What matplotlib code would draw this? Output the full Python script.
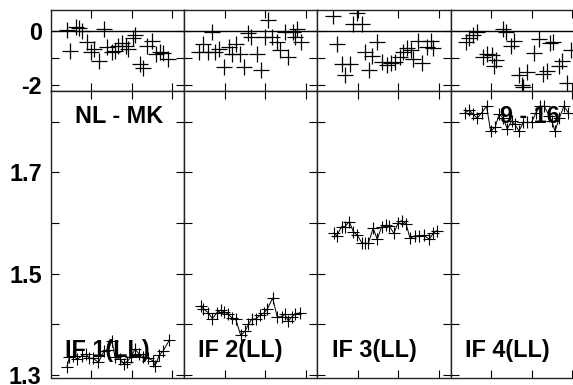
import matplotlib
matplotlib.use("Agg")
import matplotlib.pyplot as plt

plt.rcParams['font.family'] = ['Liberation Sans', 'DejaVu Sans']
plt.rcParams['font.weight'] = 'bold'

W, H = 573, 385

# phase (top row), one pair of lists per IF
ph_x1 = [0.40, 0.48, 0.62, 0.70, 0.77, 0.90, 0.99, 1.08, 1.19, 1.32, 1.40, 1.52, 1.59, 1.67,
         1.75, 1.86, 1.92, 2.02, 2.08, 2.20, 2.29, 2.37, 2.49, 2.60, 2.70, 2.78, 2.90]
ph_y1 = [0.04, -0.73, 0.16, 0.10, 0.01, -0.42, -0.77, -0.68, -1.10, 0.06, -0.58, -0.77, -0.73, -0.56,
         -0.46, -0.56, -0.68, -0.27, -0.15, -1.22, -1.36, -0.56, -0.36, -0.85, -0.77, -0.83, -1.05]

ph_x2 = [0.38, 0.48, 0.59, 0.70, 0.77, 0.87, 0.99, 1.12, 1.18, 1.28, 1.38, 1.49, 1.59, 1.65,
         1.80, 1.89, 2.00, 2.08, 2.18, 2.29, 2.37, 2.49, 2.58, 2.70, 2.74, 2.78, 2.89]
ph_y2 = [-0.79, -0.49, -0.79, -0.05, -0.79, -0.68, -1.32, -0.58, -0.85, -0.49, -0.85, -1.32, -0.09, -0.21,
         -0.85, -1.44, -0.23, 0.41, -0.23, -0.42, -0.70, -0.05, -0.98, -0.05, -0.21, 0.07, -0.40]

ph_x3 = [0.38, 0.49, 0.60, 0.68, 0.81, 0.87, 0.99, 1.10, 1.18, 1.28, 1.34, 1.47, 1.59, 1.71,
         1.81, 1.92, 2.04, 2.12, 2.22, 2.31, 2.37, 2.49, 2.58, 2.70, 2.80, 2.85]
ph_y3 = [0.57, -0.49, -1.23, -1.63, -1.23, 0.26, 0.65, 0.26, -0.79, -1.44, -0.93, -0.42, -1.14, -1.26,
         -1.20, -1.14, -0.98, -0.77, -0.64, -0.70, -1.04, -0.36, -1.20, -0.58, -0.36, -0.64]

ph_x4 = [0.38, 0.46, 0.56, 0.65, 0.81, 0.89, 1.02, 1.08, 1.12, 1.30, 1.37, 1.49, 1.57, 1.69,
         1.76, 1.80, 1.90, 2.07, 2.19, 2.28, 2.38, 2.46, 2.54, 2.68, 2.76, 2.87, 2.97]
ph_y4 = [-0.42, -0.27, -0.15, -0.05, -0.98, -0.85, -0.89, -1.28, -1.07, 0.06, -0.02, -0.54, -0.36, -1.63,
         -2.00, -2.06, -1.51, -0.83, -0.30, -1.59, -1.47, -0.46, -0.40, -1.28, -1.10, -1.91, -0.70]

# amplitude (bottom row)
amp_x1 = [0.40, 0.46, 0.56, 0.66, 0.77, 0.87, 0.95, 1.04, 1.18, 1.32, 1.42, 1.51, 1.59, 1.71,
          1.81, 1.88, 1.98, 2.08, 2.19, 2.29, 2.41, 2.53, 2.58, 2.68, 2.78, 2.93]
amp_y1 = [1.315, 1.335, 1.337, 1.331, 1.338, 1.341, 1.333, 1.333, 1.325, 1.348, 1.350, 1.367, 1.335, 1.331,
          1.322, 1.326, 1.335, 1.351, 1.341, 1.335, 1.333, 1.328, 1.318, 1.339, 1.348, 1.369]

amp_x2 = [0.41, 0.48, 0.60, 0.70, 0.81, 0.91, 0.99, 1.09, 1.18, 1.28, 1.40, 1.51, 1.59, 1.67,
          1.78, 1.88, 1.98, 2.06, 2.19, 2.30, 2.41, 2.49, 2.58, 2.66, 2.74, 2.86]
amp_y2 = [1.436, 1.431, 1.423, 1.411, 1.423, 1.428, 1.425, 1.420, 1.413, 1.410, 1.378, 1.387, 1.400, 1.410,
          1.411, 1.418, 1.423, 1.431, 1.452, 1.415, 1.415, 1.420, 1.406, 1.415, 1.420, 1.423]

amp_x3 = [0.40, 0.48, 0.60, 0.68, 0.79, 0.89, 0.99, 1.10, 1.18, 1.26, 1.38, 1.48, 1.59, 1.70,
          1.78, 1.89, 2.00, 2.08, 2.19, 2.29, 2.41, 2.51, 2.63, 2.77, 2.86, 2.95]
amp_y3 = [1.580, 1.575, 1.593, 1.593, 1.603, 1.583, 1.576, 1.561, 1.560, 1.560, 1.590, 1.568, 1.593, 1.596,
          1.594, 1.580, 1.601, 1.605, 1.599, 1.570, 1.575, 1.575, 1.576, 1.568, 1.580, 1.585]

amp_x4 = [0.36, 0.46, 0.56, 0.66, 0.77, 0.89, 0.99, 1.10, 1.20, 1.30, 1.40, 1.51, 1.59, 1.69,
          1.80, 1.90, 2.00, 2.11, 2.21, 2.31, 2.44, 2.50, 2.58, 2.69, 2.80, 2.91]
amp_y4 = [1.818, 1.823, 1.815, 1.807, 1.818, 1.831, 1.782, 1.789, 1.815, 1.808, 1.786, 1.802, 1.795, 1.782,
          1.799, 1.799, 1.799, 1.818, 1.831, 1.831, 1.812, 1.802, 1.782, 1.808, 1.831, 1.818]

if_labels = ["IF 1(LL)", "IF 2(LL)", "IF 3(LL)", "IF 4(LL)"]
ph_yticks = [-2, -1, 0]
ph_yticklabels = ["-2", "", "0"]
amp_yticks = [1.3, 1.4, 1.5, 1.6, 1.7, 1.8]
amp_yticklabels = ["1.3", "", "1.5", "", "1.7", ""]

ph_data = [(ph_x1, ph_y1), (ph_x2, ph_y2), (ph_x3, ph_y3), (ph_x4, ph_y4)]
amp_data = [(amp_x1, amp_y1), (amp_x2, amp_y2), (amp_x3, amp_y3), (amp_x4, amp_y4)]

FS = 16.8

fig = plt.figure(figsize=(W / 100, H / 100), dpi=100)

lefts = [50.7, 184.0, 317.3, 450.5]   # pixel positions of panel edges
pw = 133.3
top_px, mid_px, bot_px = 10, 91, 377.5

def style(ax, first):
    ax.set_xlim(0, pw / 40.5)
    ax.set_xticks([1, 2, 3])
    ax.tick_params(direction='in', top=True, right=True, length=5.5, width=0.8,
                   labelsize=FS, pad=6.5, labelbottom=False, labelleft=first)
    for s in ax.spines.values():
        s.set_linewidth(1.0)
        s.set_color('#222222')

for i in range(4):
    l = lefts[i] / W
    w = pw / W

    ax_t = fig.add_axes([l, (H - mid_px) / H, w, (mid_px - top_px) / H])
    ax_t.axhline(0, color='k', lw=1.0)
    ax_t.plot(ph_data[i][0], ph_data[i][1], '+', color='k', ms=11, mew=0.9, ls='none')
    ax_t.set_ylim(-2.222, 0.778)
    ax_t.set_yticks(ph_yticks)
    ax_t.set_yticklabels(ph_yticklabels)
    style(ax_t, i == 0)

    ax_b = fig.add_axes([l, (H - bot_px) / H, w, (bot_px - mid_px) / H])
    ax_b.plot(amp_data[i][0], amp_data[i][1], '-+', color='k', lw=0.7, ms=8, mew=0.8)
    ax_b.set_ylim(1.295, 1.861)
    ax_b.set_yticks(amp_yticks)
    ax_b.set_yticklabels(amp_yticklabels)
    style(ax_b, i == 0)
    ax_b.text(0.425, 0.093, if_labels[i], transform=ax_b.transAxes, fontsize=FS,
              fontweight='bold', ha='center', va='center')
    if i == 0:
        ax_b.text(0.512, 0.91, "NL - MK", transform=ax_b.transAxes, fontsize=FS,
                  fontweight='bold', ha='center', va='center')
    if i == 3:
        ax_b.text(0.596, 0.912, "9 - 16", transform=ax_b.transAxes, fontsize=FS,
                  fontweight='bold', ha='center', va='center')

# title is mostly cut off at the top edge
fig.text(-43 / W, 1.0 + 4.5 / H, "Gain amplitude (relative gain)", fontsize=FS,
         fontweight='bold', ha='left', va='baseline')

fig.savefig("out.png", dpi=100)
